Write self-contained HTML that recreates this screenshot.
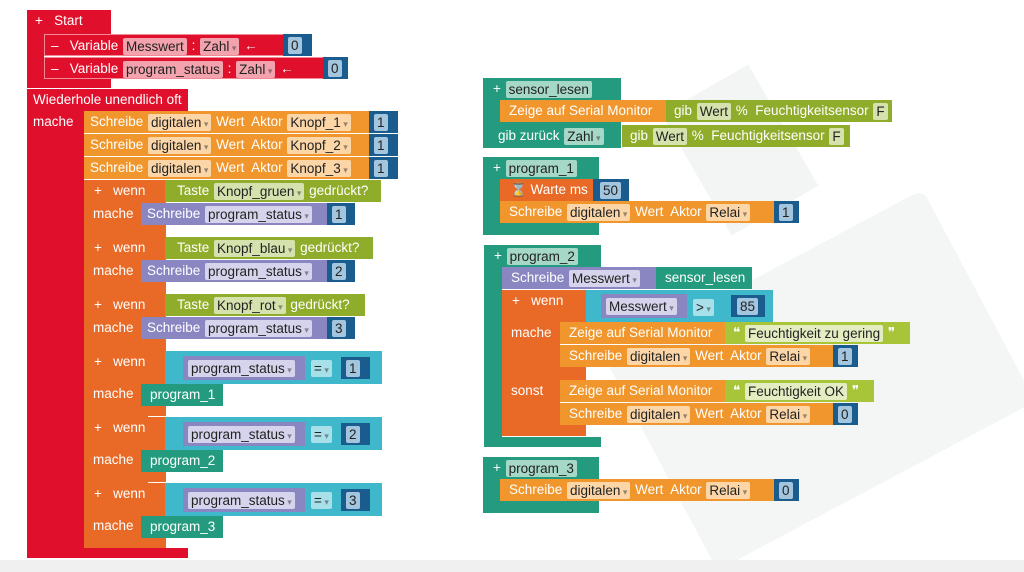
<!DOCTYPE html>
<html><head><meta charset="utf-8"><style>
body{margin:0;width:1024px;height:572px;overflow:hidden;background:#fff;position:relative;font-family:"Liberation Sans",sans-serif}
.b{position:absolute;height:22px;line-height:22px;color:#fff;font-size:13.5px;white-space:nowrap;box-sizing:border-box;padding-left:6px;overflow:visible}
.f{display:inline-block;height:17px;line-height:17px;padding:0 3px;border-radius:2px;color:#222;vertical-align:middle;margin:0 1px}
.d:after{content:" \25BE";font-size:9px;opacity:.45}
.r{background:#e00f2b}.rf{background:#f3a3ad}
.o{background:#f0962c}.of{background:#fcd6a6}
.w{background:#e86a26}
.g{background:#8fac2a}.gf{background:#d6e2ad}
.y{background:#a8c53a}.yf{background:#e4edc2}
.p{background:#8a86c2}.pf{background:#d6d4ec}
.t{background:#249b7e}.tf{background:#a6d8c8}
.c{background:#40b8cb}.cf{background:#a8e0ea}
.n{background:#1b5c8e;padding-left:4px}.nf{background:#a3c5de}
</style></head><body>
<div style="position:absolute;left:640px;top:260px;width:360px;height:240px;background:#f4f6f6;transform:rotate(-28deg);border-radius:10px"></div>
<div style="position:absolute;left:690px;top:80px;width:100px;height:140px;background:#f3f5f5;transform:rotate(-30deg)"></div>
<div style="position:absolute;left:0;top:560px;width:1024px;height:12px;background:#f0f0f0"></div>

<!-- Start -->
<div class="b r" style="left:27px;top:10px;width:84px;height:24px;padding-left:8px">+&nbsp;&nbsp; Start</div>
<div class="r" style="position:absolute;left:27px;top:33px;width:17px;height:50px"></div>
<div class="r" style="position:absolute;left:27px;top:79px;width:84px;height:9px"></div>
<div class="b r" style="left:44px;top:34px;width:240px;border:1px solid #f08a96;border-right:0">–&nbsp;&nbsp; Variable <span class="f rf">Messwert</span> : <span class="f rf d">Zahl</span> ←</div>
<div class="b n" style="left:283px;top:34px;width:29px"><span class="f nf">0</span></div>
<div class="b r" style="left:44px;top:57px;width:280px;border:1px solid #f08a96;border-right:0">–&nbsp;&nbsp; Variable <span class="f rf">program_status</span> : <span class="f rf d">Zahl</span> ←</div>
<div class="b n" style="left:323px;top:57px;width:25px"><span class="f nf">0</span></div>

<!-- Wiederhole -->
<div class="b r" style="left:27px;top:89px;width:161px;padding-left:6px">Wiederhole unendlich oft</div>
<div class="b r" style="left:27px;top:111px;width:57px;height:440px;line-height:22px">mache</div>
<div class="r" style="position:absolute;left:27px;top:548px;width:161px;height:10px"></div>

<div class="b o" style="left:84px;top:111px;width:286px">Schreibe <span class="f of d">digitalen</span> Wert&nbsp; Aktor <span class="f of d">Knopf_1</span></div>
<div class="b n" style="left:369px;top:111px;width:29px"><span class="f nf">1</span></div>
<div class="b o" style="left:84px;top:134px;width:286px">Schreibe <span class="f of d">digitalen</span> Wert&nbsp; Aktor <span class="f of d">Knopf_2</span></div>
<div class="b n" style="left:369px;top:134px;width:29px"><span class="f nf">1</span></div>
<div class="b o" style="left:84px;top:157px;width:286px">Schreibe <span class="f of d">digitalen</span> Wert&nbsp; Aktor <span class="f of d">Knopf_3</span></div>
<div class="b n" style="left:369px;top:157px;width:29px"><span class="f nf">1</span></div>

<!-- wenn 1-3 -->
<div class="w" style="position:absolute;left:84px;top:180px;width:82px;height:57px"></div>
<div class="b" style="left:84px;top:180px;width:82px;padding-left:10px">+&nbsp;&nbsp; wenn</div>
<div class="b" style="left:84px;top:203px;padding-left:9px">mache</div>
<div class="b g" style="left:165px;top:180px;width:216px;padding-left:12px">Taste <span class="f gf d">Knopf_gruen</span> gedrückt?</div>
<div class="b p" style="left:141px;top:203px;width:187px">Schreibe <span class="f pf d">program_status</span></div>
<div class="b n" style="left:327px;top:203px;width:28px"><span class="f nf">1</span></div>

<div class="w" style="position:absolute;left:84px;top:237px;width:82px;height:57px"></div>
<div class="b" style="left:84px;top:237px;width:82px;padding-left:10px">+&nbsp;&nbsp; wenn</div>
<div class="b" style="left:84px;top:260px;padding-left:9px">mache</div>
<div class="b g" style="left:165px;top:237px;width:208px;padding-left:12px">Taste <span class="f gf d">Knopf_blau</span> gedrückt?</div>
<div class="b p" style="left:141px;top:260px;width:187px">Schreibe <span class="f pf d">program_status</span></div>
<div class="b n" style="left:327px;top:260px;width:28px"><span class="f nf">2</span></div>

<div class="w" style="position:absolute;left:84px;top:294px;width:82px;height:57px"></div>
<div class="b" style="left:84px;top:294px;width:82px;padding-left:10px">+&nbsp;&nbsp; wenn</div>
<div class="b" style="left:84px;top:317px;padding-left:9px">mache</div>
<div class="b g" style="left:165px;top:294px;width:200px;padding-left:12px">Taste <span class="f gf d">Knopf_rot</span> gedrückt?</div>
<div class="b p" style="left:141px;top:317px;width:187px">Schreibe <span class="f pf d">program_status</span></div>
<div class="b n" style="left:327px;top:317px;width:28px"><span class="f nf">3</span></div>

<!-- wenn 4-6 -->
<div class="w" style="position:absolute;left:84px;top:351px;width:64px;height:197px"></div>
<div class="w" style="position:absolute;left:84px;top:351px;width:82px;height:65px"></div>
<div class="w" style="position:absolute;left:84px;top:417px;width:82px;height:65px"></div>
<div class="w" style="position:absolute;left:84px;top:483px;width:82px;height:65px"></div>

<div class="b" style="left:84px;top:351px;padding-left:10px">+&nbsp;&nbsp; wenn</div>
<div class="b" style="left:84px;top:383px;padding-left:9px">mache</div>
<div class="b c" style="left:165px;top:351px;width:217px;height:33px"></div>
<div class="b p" style="left:183px;top:356px;width:122px;height:24px;line-height:24px;padding-left:4px"><span class="f pf d">program_status</span></div>
<div class="b" style="left:310px;top:357px;padding:0"><span class="f cf d">=</span></div>
<div class="b n" style="left:341px;top:357px;width:29px"><span class="f nf">1</span></div>
<div class="b t" style="left:141px;top:384px;width:82px;padding-left:9px">program_1</div>

<div class="b" style="left:84px;top:417px;padding-left:10px">+&nbsp;&nbsp; wenn</div>
<div class="b" style="left:84px;top:449px;padding-left:9px">mache</div>
<div class="b c" style="left:165px;top:417px;width:217px;height:33px"></div>
<div class="b p" style="left:183px;top:422px;width:122px;height:24px;line-height:24px;padding-left:4px"><span class="f pf d">program_status</span></div>
<div class="b" style="left:310px;top:423px;padding:0"><span class="f cf d">=</span></div>
<div class="b n" style="left:341px;top:423px;width:29px"><span class="f nf">2</span></div>
<div class="b t" style="left:141px;top:450px;width:82px;padding-left:9px">program_2</div>

<div class="b" style="left:84px;top:483px;padding-left:10px">+&nbsp;&nbsp; wenn</div>
<div class="b" style="left:84px;top:515px;padding-left:9px">mache</div>
<div class="b c" style="left:165px;top:483px;width:217px;height:33px"></div>
<div class="b p" style="left:183px;top:488px;width:122px;height:24px;line-height:24px;padding-left:4px"><span class="f pf d">program_status</span></div>
<div class="b" style="left:310px;top:489px;padding:0"><span class="f cf d">=</span></div>
<div class="b n" style="left:341px;top:489px;width:29px"><span class="f nf">3</span></div>
<div class="b t" style="left:141px;top:516px;width:82px;padding-left:9px">program_3</div>

<!-- sensor_lesen -->
<div class="t" style="position:absolute;left:483px;top:78px;width:138px;height:22px"></div>
<div class="t" style="position:absolute;left:483px;top:78px;width:18px;height:70px"></div>
<div class="t" style="position:absolute;left:483px;top:122px;width:138px;height:26px"></div>
<div class="b" style="left:483px;top:78px;padding-left:10px">+ <span class="f tf">sensor_lesen</span></div>
<div class="b o" style="left:500px;top:100px;width:167px;padding-left:9px">Zeige auf Serial Monitor</div>
<div class="b g" style="left:666px;top:100px;width:226px;padding-left:8px">gib <span class="f gf">Wert</span> %&nbsp; Feuchtigkeitsensor <span class="f gf">F</span></div>
<div class="b" style="left:483px;top:125px;padding-left:15px">gib zurück <span class="f tf d">Zahl</span></div>
<div class="b g" style="left:622px;top:125px;width:228px;padding-left:8px">gib <span class="f gf">Wert</span> %&nbsp; Feuchtigkeitsensor <span class="f gf">F</span></div>

<!-- program_1 -->
<div class="t" style="position:absolute;left:483px;top:157px;width:116px;height:22px"></div>
<div class="t" style="position:absolute;left:483px;top:157px;width:18px;height:78px"></div>
<div class="t" style="position:absolute;left:483px;top:223px;width:116px;height:12px"></div>
<div class="b" style="left:483px;top:157px;padding-left:10px">+ <span class="f tf">program_1</span></div>
<div class="b w" style="left:500px;top:179px;width:94px;padding-left:10px">⌛ Warte ms</div>
<div class="b n" style="left:593px;top:179px;width:36px;padding-left:6px"><span class="f nf">50</span></div>
<div class="b o" style="left:500px;top:201px;width:275px;padding-left:9px">Schreibe <span class="f of d">digitalen</span> Wert&nbsp; Aktor <span class="f of d">Relai</span></div>
<div class="b n" style="left:774px;top:201px;width:25px"><span class="f nf">1</span></div>

<!-- program_2 -->
<div class="t" style="position:absolute;left:484px;top:245px;width:117px;height:22px"></div>
<div class="t" style="position:absolute;left:484px;top:245px;width:18px;height:202px"></div>
<div class="t" style="position:absolute;left:484px;top:437px;width:117px;height:10px"></div>
<div class="b" style="left:484px;top:245px;padding-left:10px">+ <span class="f tf">program_2</span></div>
<div class="b p" style="left:502px;top:267px;width:155px;padding-left:9px">Schreibe <span class="f pf d">Messwert</span></div>
<div class="b t" style="left:656px;top:267px;width:96px;padding-left:9px">sensor_lesen</div>
<div class="w" style="position:absolute;left:502px;top:290px;width:58px;height:146px"></div>
<div class="w" style="position:absolute;left:502px;top:290px;width:84px;height:33px"></div>
<div class="w" style="position:absolute;left:502px;top:367px;width:84px;height:13px"></div>
<div class="w" style="position:absolute;left:502px;top:425px;width:84px;height:11px"></div>
<div class="b" style="left:502px;top:290px;padding-left:10px">+&nbsp;&nbsp; wenn</div>
<div class="b" style="left:502px;top:322px;padding-left:9px">mache</div>
<div class="b" style="left:502px;top:380px;padding-left:9px">sonst</div>
<div class="b c" style="left:586px;top:290px;width:187px;height:32px"></div>
<div class="b p" style="left:601px;top:294px;width:86px;height:24px;line-height:24px;padding-left:4px"><span class="f pf d">Messwert</span></div>
<div class="b" style="left:692px;top:296px;padding:0"><span class="f cf d">&gt;</span></div>
<div class="b n" style="left:731px;top:295px;width:34px;padding-left:5px"><span class="f nf">85</span></div>
<div class="b o" style="left:560px;top:322px;width:166px;padding-left:9px">Zeige auf Serial Monitor</div>
<div class="b y" style="left:725px;top:322px;width:185px;padding-left:8px">❝ <span class="f yf">Feuchtigkeit zu gering</span> ❞</div>
<div class="b o" style="left:560px;top:345px;width:274px;padding-left:9px">Schreibe <span class="f of d">digitalen</span> Wert&nbsp; Aktor <span class="f of d">Relai</span></div>
<div class="b n" style="left:833px;top:345px;width:25px"><span class="f nf">1</span></div>
<div class="b o" style="left:560px;top:380px;width:166px;padding-left:9px">Zeige auf Serial Monitor</div>
<div class="b y" style="left:725px;top:380px;width:149px;padding-left:8px">❝ <span class="f yf">Feuchtigkeit OK</span> ❞</div>
<div class="b o" style="left:560px;top:403px;width:274px;padding-left:9px">Schreibe <span class="f of d">digitalen</span> Wert&nbsp; Aktor <span class="f of d">Relai</span></div>
<div class="b n" style="left:833px;top:403px;width:25px"><span class="f nf">0</span></div>

<!-- program_3 -->
<div class="t" style="position:absolute;left:483px;top:457px;width:116px;height:22px"></div>
<div class="t" style="position:absolute;left:483px;top:457px;width:18px;height:56px"></div>
<div class="t" style="position:absolute;left:483px;top:501px;width:116px;height:12px"></div>
<div class="b" style="left:483px;top:457px;padding-left:10px">+ <span class="f tf">program_3</span></div>
<div class="b o" style="left:500px;top:479px;width:275px;padding-left:9px">Schreibe <span class="f of d">digitalen</span> Wert&nbsp; Aktor <span class="f of d">Relai</span></div>
<div class="b n" style="left:774px;top:479px;width:25px"><span class="f nf">0</span></div>
</body></html>
